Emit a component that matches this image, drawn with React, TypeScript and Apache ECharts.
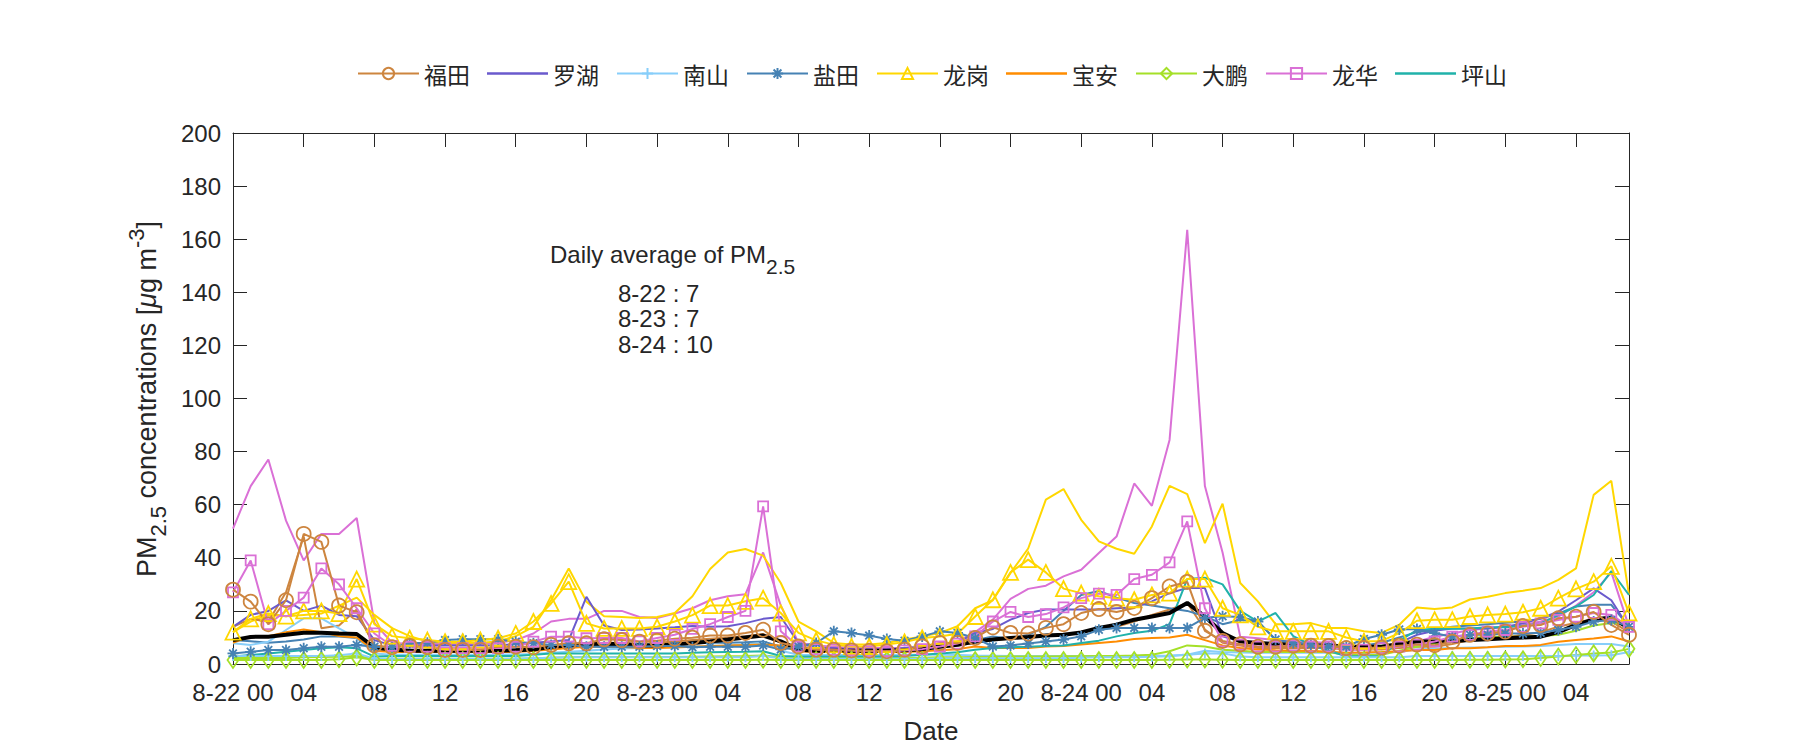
import React, { useEffect, useRef } from "react";
import * as echarts from "echarts";

// ---------------- data ----------------
const days = ["8-22", "8-23", "8-24", "8-25"];
const hourCount = 80; // 8-22 00 .. 8-25 07, hourly

const stationNames = ["福田", "罗湖", "南山", "盐田", "龙岗", "宝安", "大鹏", "龙华", "坪山"];
const plainLegendNames = ["罗湖", "宝安", "坪山"];

// 福田 (marked, circles)
const futian = [
  28, 23.5, 15, 24, 49, 46, 22, 19.5, 7, 6.3,
  6.8, 6.3, 5.3, 5.3, 5.3, 6.5, 6.5, 6.3, 7.2, 7.8,
  7.8, 9.3, 9, 8.4, 8.8, 9.5, 9.9, 10.7, 10.7, 11.7,
  12.9, 7.9, 6.6, 5.4, 5.4, 5.1, 5, 4.8, 5.4, 6.6,
  7.9, 7.9, 9.8, 13.8, 11.7, 11.5, 13.6, 15, 19.2, 20.7,
  19.6, 21.1, 24.8, 29.2, 30.9, 12.5, 8.7, 7.4, 6.5, 6.5,
  6.9, 6.9, 6.8, 6, 6, 6.2, 6.9, 7.3, 7.1, 8.4,
  11, 11.5, 12.2, 14.3, 14.7, 17.2, 17.8, 19.6, 14.7, 11,
];
// 福田 (second, plain line)
const futianB = [
  14, 17, 16, 27, 48, 13.5, 14.5, 20.5, 6.6, 5.5,
  5, 5, 4.5, 4.5, 4.5, 5, 5, 5, 6, 7,
  7.5, 8, 8, 7.5, 8, 8.5, 9, 9.5, 10, 10.5,
  11.3, 8, 5.5, 5, 5, 4.8, 4.8, 4.8, 5, 5.5,
  6.5, 7, 8, 9, 9.5, 10, 10.5, 11, 12, 13,
  14, 16, 18.5, 20.5, 23, 13, 8, 7, 6, 6,
  6, 6, 6, 5.5, 5.5, 5.5, 6, 6.5, 6.5, 7.5,
  9, 9.5, 10, 11, 12, 14, 15.5, 17, 16, 12,
];
// 罗湖
const luohu = [
  14, 18.5, 20, 24, 20, 22, 18.5, 18, 9, 7,
  7, 7, 7, 7, 7, 7, 7.5, 8, 8.5, 9,
  25.3, 14.5, 12.8, 13, 13.4, 13.8, 14.3, 14, 14.2, 15.4,
  17, 17.7, 7.9, 6, 6, 5.5, 5.5, 5.5, 6, 6.5,
  7, 8, 11.7, 13.2, 16.7, 19.2, 20.5, 20.5, 20.5, 20.5,
  21, 21.3, 23.6, 26.7, 28.6, 28.6, 10.4, 8.5, 7.5, 7,
  7, 7, 6.5, 6, 6, 6, 8, 11, 12.5, 13.4,
  13.4, 13.4, 14, 15.3, 17.2, 19.7, 24, 28.5, 24, 13.5,
];
// 南山 (marked, plus)
const nanshan = [
  3, 3, 3, 3, 3, 3, 3.3, 4, 2, 2,
  2, 2, 2, 2, 2, 2, 2, 2.2, 2.4, 2.5,
  2.5, 2.5, 2.5, 2.5, 2.5, 2.5, 2.5, 2.5, 2.5, 2.5,
  3, 2.2, 2, 2, 2, 2, 2, 2, 2, 2,
  2.2, 2.2, 2.2, 2.2, 2.2, 2.2, 2.2, 2.2, 2.4, 2.5,
  2.5, 2.5, 2.7, 2.9, 3.5, 4, 4, 2.8, 2.5, 2.5,
  2.5, 2.5, 2.5, 2.5, 2.5, 2.5, 2.5, 3, 3, 3,
  3, 3, 3, 3, 3, 3, 3.2, 3.2, 3.3, 4.5,
];
// 南山 (second, plain line)
const nanshanB = [
  7.8, 7.2, 8.4, 12.8, 17.2, 17.2, 13.4, 9.7, 4, 3.5,
  3.5, 3.5, 3.5, 3.5, 3.5, 3.5, 3.6, 3.8, 4.2, 4.6,
  5, 5.5, 5.8, 6, 6.2, 6.4, 6.6, 6.8, 7, 7.4,
  7.9, 5, 3.5, 3.4, 3.4, 3.4, 3.4, 3.4, 3.5, 3.5,
  3.5, 3.4, 3.2, 3.1, 3, 3, 3, 3, 3, 3,
  3, 3, 3, 3.2, 3.5, 5, 4.5, 4.3, 4.2, 4.2,
  4.2, 4.2, 4.2, 4.2, 4.2, 4.3, 4.5, 5.5, 5.8, 6,
  6.2, 6.3, 6.5, 6.6, 6.8, 7.2, 7.5, 7.5, 7.5, 6.6,
];
// 盐田 (marked, asterisk)
const yantian = [
  4, 4.6, 5.3, 5.3, 5.9, 6.5, 6.5, 7.2, 6.5, 6.3,
  7.8, 8, 9, 9.3, 9.3, 9.3, 8.4, 7.8, 7.2, 7.2,
  6.5, 6.5, 6.5, 6.5, 6.8, 6.8, 6.3, 6.5, 6.5, 6.5,
  7, 5.5, 6.6, 7.9, 12.3, 11.7, 10.7, 9.4, 8.8, 10.4,
  12.3, 11.7, 9.8, 6.6, 7, 7.7, 8.5, 9.2, 10.4, 12.9,
  13.6, 13.6, 13.6, 13.6, 13.6, 17.4, 18, 17.7, 16, 9.2,
  7.9, 7.3, 6.6, 6.6, 9.4, 11, 13, 13.2, 11.6, 10.3,
  11, 11, 11.5, 11.5, 11.8, 12.8, 14, 16, 16.6, 14,
];
// 盐田 (second, plain line)
const yantianB = [
  9, 8.6, 8, 8.5, 9.2, 10.4, 10.4, 9.8, 5.4, 5,
  5, 5, 5, 5, 5, 5, 5.5, 6, 6.5, 7,
  7.5, 7.5, 7.5, 7.5, 7.5, 7.5, 7.8, 8, 8, 8.2,
  8.5, 6.5, 5, 4.8, 4.8, 4.8, 4.8, 4.8, 5, 5.5,
  6.5, 7.5, 9, 10.4, 9.5, 11, 14, 20, 26, 27.5,
  25, 23, 22, 21, 20, 18, 15, 16.6, 16, 9,
  8, 7.5, 7, 6.5, 7, 8, 10, 12, 13, 14,
  14.5, 15, 15.5, 16, 17, 19, 21.7, 22.3, 22.3, 14,
];
// 龙岗 (marked, triangle)
const longgang = [
  12, 17, 19, 18, 20, 20, 19, 32, 15, 10.5,
  9.7, 9, 8.4, 8.4, 9, 9.7, 11.5, 16, 22.8, 31,
  15.3, 13.4, 13.4, 13.4, 14, 16, 18.4, 22, 22, 23.6,
  24.8, 19.2, 11.7, 8.9, 7.3, 6.6, 6.6, 7.3, 8.3, 9.8,
  10.4, 11.4, 17.9, 24.2, 34.5, 39.3, 34.5, 28.4, 26.7, 25.5,
  24.8, 24.2, 26, 26.7, 32, 32, 21, 18.5, 14, 12.3,
  12.3, 12.3, 12.3, 10, 8.5, 8.7, 11.6, 16.3, 16.7, 16.7,
  17.9, 18.5, 18.8, 19.5, 21, 24.8, 28.3, 31, 36.8, 19.2,
];
// 龙岗 (second, plain line)
const longgangB = [
  12, 16, 18.5, 18, 18.5, 19, 22, 25, 18.5, 13.5,
  10.5, 8.5, 8, 8, 8, 8.5, 10.5, 14, 24, 36,
  23.5, 18, 17.7, 17.3, 17.7, 19.2, 25.5, 35.8, 42, 43.3,
  40.8, 30.5, 16, 12.3, 7.9, 7.3, 7.3, 7.9, 9.2, 10.4,
  11.7, 14.2, 21, 24, 34.3, 43.5, 61.9, 65.9, 54.3, 46.2,
  43.4, 41.5, 51.8, 67.1, 64, 45.5, 60.4, 30.5, 23.6, 15,
  15, 15.4, 13.6, 13.6, 12.3, 11.7, 14.8, 21.3, 20.7, 21.3,
  24.3, 25.3, 26.7, 27.6, 28.6, 31.7, 36, 63.7, 69, 26,
];
// 宝安
const baoan = [
  8, 10.5, 10.5, 12, 13, 12, 10.5, 10, 5, 4.5,
  4.5, 4.5, 4.5, 4.5, 4.5, 4.5, 4.5, 5, 5.5, 6,
  6.5, 6.5, 6.5, 6, 6, 6.2, 6.5, 6.8, 7, 7.2,
  7.3, 7, 4.8, 4.5, 4.5, 4.5, 4.5, 4.5, 4.5, 4.8,
  5.2, 5.6, 6.6, 6, 6, 6, 6.6, 6.8, 7.3, 7.9,
  8.5, 9.4, 9.8, 10, 11, 9, 7, 6, 5.5, 5.2,
  5, 5, 4.6, 4.2, 4.3, 4.5, 4.8, 5.3, 5.3, 5.9,
  5.9, 6.3, 6.8, 6.8, 7.2, 8.4, 9, 9.6, 10.4, 8.5,
];
// 大鹏 (marked, diamond)
const dapeng = [
  1.5, 1.5, 1.5, 1.5, 1.5, 1.5, 1.8, 2.5, 1.5, 1.5,
  1.5, 1.5, 1.5, 1.5, 1.5, 1.5, 1.5, 1.5, 1.5, 1.5,
  1.5, 1.5, 1.5, 1.5, 1.5, 1.5, 1.5, 1.5, 1.5, 1.5,
  1.6, 1.5, 1.5, 1.5, 1.5, 1.5, 1.5, 1.5, 1.5, 1.5,
  1.5, 1.5, 1.5, 1.5, 1.5, 1.5, 1.5, 1.5, 1.5, 1.5,
  1.5, 1.5, 1.5, 1.6, 1.7, 1.7, 1.6, 1.5, 1.5, 1.5,
  1.5, 1.5, 1.5, 1.5, 1.5, 1.5, 1.5, 1.5, 1.5, 1.5,
  1.6, 1.6, 1.7, 1.8, 2.3, 2.8, 3.4, 4, 4.3, 5.7,
];
// 大鹏 (second, plain line)
const dapengB = [
  2.3, 2.3, 2.3, 2.3, 2.5, 2.6, 2.7, 3, 2, 2,
  2, 2, 2, 2, 2, 2, 2, 2.2, 2.4, 2.5,
  2.6, 2.6, 2.6, 2.6, 2.6, 2.6, 2.7, 2.8, 2.9, 3,
  3.2, 2.5, 2.3, 2.3, 2.3, 2.3, 2.3, 2.3, 2.3, 2.4,
  2.5, 2.5, 2.6, 2.7, 2.8, 2.8, 2.8, 2.9, 2.9, 3,
  3, 3.2, 3.5, 4.8, 7, 6.6, 5.4, 5, 4.5, 4.5,
  4.5, 4.5, 4.5, 3.4, 3.4, 3.5, 5, 6.5, 7.8, 9,
  9.7, 10.3, 10.3, 10.3, 10.5, 11, 12.5, 14.5, 15.4, 15,
];
// 龙华 (marked, square)
const longhua = [
  27, 39, 15, 20, 25, 36, 30, 21, 11.5, 6.8,
  6.5, 6.5, 6, 6, 6, 6, 6.5, 8.4, 10.3, 10.3,
  9.7, 9.8, 9.8, 8.5, 9.8, 11, 13.2, 15, 17.7, 20,
  59.4, 12.3, 6.6, 5.6, 5.4, 5.1, 4.8, 4.8, 5.1, 5.6,
  6.6, 7.7, 10.4, 16, 19.6, 17.7, 18.8, 21.3, 24.8, 26.5,
  26, 32, 33.6, 38.3, 53.7, 21, 8.5, 7.3, 6.6, 6.6,
  7, 6.6, 6.6, 5.4, 5.4, 6, 6.6, 7.3, 8.5, 10.3,
  11, 12.2, 12.8, 14, 15.3, 16.6, 17.8, 19.2, 18.5, 14,
];
// 龙华 (second, plain line)
const longhuaB = [
  51, 67, 77, 54, 39, 49, 49, 55, 15.5, 8,
  7.5, 7.5, 7.5, 7.5, 7.5, 8, 9, 11.5, 16, 17,
  17, 20, 20, 17.7, 17.3, 19, 21, 24, 25.5, 26.3,
  42, 22, 8, 7, 6.5, 6, 6, 6, 6, 6.5,
  7, 8.5, 12, 16.7, 24.5, 28.3, 29.5, 33, 35.5, 41.8,
  48, 68, 59.6, 84.4, 163.5, 67, 42, 10.3, 9.7, 9,
  8.4, 8.4, 7.8, 6.5, 6.5, 6.3, 6.5, 8.4, 10.3, 11.5,
  12.8, 13.4, 14, 14.7, 16, 17.8, 22, 27, 34.5, 14,
];
// 坪山
const pingshan = [
  2.8, 3.4, 4, 4.6, 5.3, 5.9, 6.3, 5.9, 2.8, 3,
  3, 3, 3, 3, 3, 3, 3, 3.5, 4, 4,
  4, 4, 4, 4, 4, 4, 4.2, 4.4, 4.5, 4.6,
  4.8, 3, 2.8, 2.8, 2.8, 2.8, 2.8, 2.8, 3, 3.5,
  4, 4.4, 5.4, 6, 6.3, 6.5, 6.8, 7, 7.9, 8.8,
  10.4, 11.7, 12.5, 15, 32, 32.5, 30, 20, 16, 19.2,
  10.5, 7.2, 5, 2.9, 2.9, 2.9, 8.7, 12.8, 13.3, 13.3,
  13.4, 13.8, 13.8, 14.3, 15.3, 18.4, 21.6, 26, 35, 26,
];
// all-station average (black)
const average = [
  9, 10.2, 10.3, 11, 11.8, 11.8, 11.5, 11.3, 6.3, 5.5,
  5, 5, 5, 5, 5, 5, 5.2, 5.5, 6.5, 7,
  7.5, 7.5, 7.5, 7, 7, 7.3, 7.9, 8.5, 9.2, 10,
  10.7, 8.5, 5.4, 5, 5, 5, 5, 5, 5.2, 5.6,
  6.5, 7.2, 8.5, 9.2, 9.8, 10.2, 10.7, 11, 11.9, 13.6,
  14.8, 16.7, 17.9, 19.2, 23, 17.9, 11.7, 8.5, 7.9, 7.5,
  7.3, 7, 7, 6.5, 6.5, 6.5, 7.5, 8.5, 8.5, 8.7,
  9, 9.3, 9.7, 10, 10.3, 12, 14.7, 16.8, 17.5, 13.5,
];

const dailyAvgDays = ["8-22", "8-23", "8-24"];
const dailyAvgValues = [7, 7, 10];

// x categories: one per hour, labels every 4 hours
const categories: string[] = [];
for (let i = 0; i < hourCount; i++) {
  const h = i % 24;
  const hh = h < 10 ? "0" + h : String(h);
  categories.push(h === 0 ? `${days[Math.floor(i / 24)]} ${hh}` : hh);
}

// ---------------- styles ----------------
const FONT = "'Liberation Sans', Arial, sans-serif";
const CJK = "'Noto Sans CJK SC', sans-serif";
const INK = "#262626";

const C = {
  futian: "#CD853F",
  luohu: "#6A5ACD",
  nanshan: "#87CEFA",
  yantian: "#4682B4",
  longgang: "#FFD700",
  baoan: "#FF8C00",
  dapeng: "#A5E028",
  longhua: "#DA70D6",
  pingshan: "#20B2AA",
};

const PLUS = "path://M0,5L10,5M5,0L5,10";
const STAR = "path://M0,5L10,5M5,0L5,10M1.5,1.5L8.5,8.5M1.5,8.5L8.5,1.5";
const LINE_ICON = "path://M0,0L60,0L60,2.4L0,2.4Z";

function plainLine(name: string, data: number[], color: string, width = 2, z = 2) {
  return {
    type: "line",
    name,
    data,
    symbol: "none",
    showSymbol: false,
    lineStyle: { color, width },
    itemStyle: { color },
    emphasis: { disabled: true },
    silent: true,
    z,
  };
}

function markedLine(name: string, data: number[], color: string, symbol: string, size: any, z = 4) {
  return {
    type: "line",
    name,
    data,
    symbol,
    symbolSize: size,
    showSymbol: true,
    showAllSymbol: true,
    lineStyle: { color, width: 2 },
    itemStyle: { color: "rgba(255,255,255,0)", borderColor: color, borderWidth: 1.8 },
    emphasis: { disabled: true },
    silent: true,
    z,
  };
}

export default function App() {
  const ref = useRef<HTMLDivElement>(null);

  useEffect(() => {
    if (!ref.current) return;
    const chart = echarts.init(ref.current, undefined, { renderer: "svg", width: 1800, height: 750 });

    const tickInterval = (i: number) => i % 4 === 0;

    const xBase = {
      type: "category",
      data: categories,
      boundaryGap: false,
      axisLine: { show: true, onZero: false, lineStyle: { color: INK, width: 1 } },
      axisTick: { show: true, inside: true, length: 14, interval: tickInterval, lineStyle: { color: INK, width: 1 } },
      splitLine: { show: false },
    };
    const yBase = {
      type: "value",
      min: 0,
      max: 200,
      interval: 20,
      axisLine: { show: true, onZero: false, lineStyle: { color: INK, width: 1 } },
      axisTick: { show: true, inside: true, length: 14, lineStyle: { color: INK, width: 1 } },
      splitLine: { show: false },
    };

    const rich = {
      m: { fontSize: 27, fontFamily: FONT, fill: INK, color: INK },
      it: { fontSize: 27, fontFamily: FONT, fontStyle: "italic", fill: INK, color: INK },
      sub: { fontSize: 22, fontFamily: FONT, fill: INK, color: INK, padding: [22, 0, 0, 0] },
      sup: { fontSize: 22, fontFamily: FONT, fill: INK, color: INK, padding: [0, 0, 22, 0] },
    };
    const richA = {
      m: { fontSize: 24, fontFamily: FONT, fill: INK, color: INK },
      sub: { fontSize: 21, fontFamily: FONT, fill: INK, color: INK, padding: [24, 0, 0, 0] },
    };

    const graphic: any[] = [
      {
        type: "text",
        x: 147,
        y: 399,
        rotation: Math.PI / 2,
        silent: true,
        style: {
          text: "{m|PM}{sub|2.5}{m| concentrations [}{it|μ}{m|g m}{sup|-3}{m|]}",
          rich,
          align: "center",
          verticalAlign: "middle",
          fill: INK,
          fontSize: 27,
          fontFamily: FONT,
        },
      },
      {
        type: "text",
        x: 550,
        y: 254,
        silent: true,
        style: {
          text: "{m|Daily average of PM}{sub|2.5}",
          rich: richA,
          align: "left",
          verticalAlign: "middle",
          fill: INK,
          fontSize: 24,
          fontFamily: FONT,
        },
      },
      ...dailyAvgDays.map((d, i) => ({
        type: "text",
        x: 618,
        y: 293 + i * 25.5,
        silent: true,
        style: {
          text: `${d} : ${dailyAvgValues[i]}`,
          align: "left",
          verticalAlign: "middle",
          fill: INK,
          fontSize: 24,
          fontFamily: FONT,
        },
      })),
    ];

    const legendData = stationNames.map((n) =>
      plainLegendNames.indexOf(n) >= 0 ? { name: n, icon: LINE_ICON } : { name: n }
    );

    const option: any = {
      animation: false,
      backgroundColor: "#ffffff",
      textStyle: { fontFamily: FONT },
      legend: {
        data: legendData,
        top: 57,
        left: 352,
        itemWidth: 61,
        itemHeight: 14,
        itemGap: 17,
        symbolKeepAspect: true,
        textStyle: { fontFamily: CJK, fontSize: 23, color: INK },
        selectedMode: false,
      },
      grid: { left: 233, right: 171, top: 133, bottom: 86, containLabel: false },
      xAxis: [
        {
          ...xBase,
          position: "bottom",
          axisLabel: {
            interval: tickInterval,
            color: INK,
            fontSize: 24,
            fontFamily: FONT,
            margin: 16,
          },
          name: "Date",
          nameLocation: "middle",
          nameGap: 54,
          nameTextStyle: { color: INK, fontSize: 26, fontFamily: FONT },
        },
        {
          ...xBase,
          position: "top",
          axisLabel: { show: false },
        },
      ],
      yAxis: [
        {
          ...yBase,
          position: "left",
          axisLabel: { color: INK, fontSize: 24, fontFamily: FONT, margin: 12 },
        },
        {
          ...yBase,
          position: "right",
          axisLabel: { show: false },
        },
      ],
      graphic,
      series: [
        plainLine("龙华b", longhuaB, C.longhua),
        plainLine("龙岗b", longgangB, C.longgang),
        plainLine("福田b", futianB, C.futian),
        plainLine("盐田b", yantianB, C.yantian),
        plainLine("南山b", nanshanB, C.nanshan),
        plainLine("大鹏b", dapengB, C.dapeng),
        plainLine("罗湖", luohu, C.luohu, 2, 3),
        plainLine("宝安", baoan, C.baoan, 2, 3),
        plainLine("坪山", pingshan, C.pingshan, 2, 3),
        plainLine("平均", average, "#000000", 4, 3),
        markedLine("南山", nanshan, C.nanshan, PLUS, 10),
        markedLine("大鹏", dapeng, C.dapeng, "diamond", [11, 16]),
        markedLine("盐田", yantian, C.yantian, STAR, 11),
        markedLine("龙岗", longgang, C.longgang, "triangle", 15),
        markedLine("龙华", longhua, C.longhua, "rect", 10),
        markedLine("福田", futian, C.futian, "circle", 14),
      ],
    };

    chart.setOption(option);
    return () => {
      chart.dispose();
    };
  }, []);

  return (
    <div
      ref={ref}
      style={{ position: "fixed", left: 0, top: 0, width: 1800, height: 750, background: "#fff" }}
    />
  );
}
